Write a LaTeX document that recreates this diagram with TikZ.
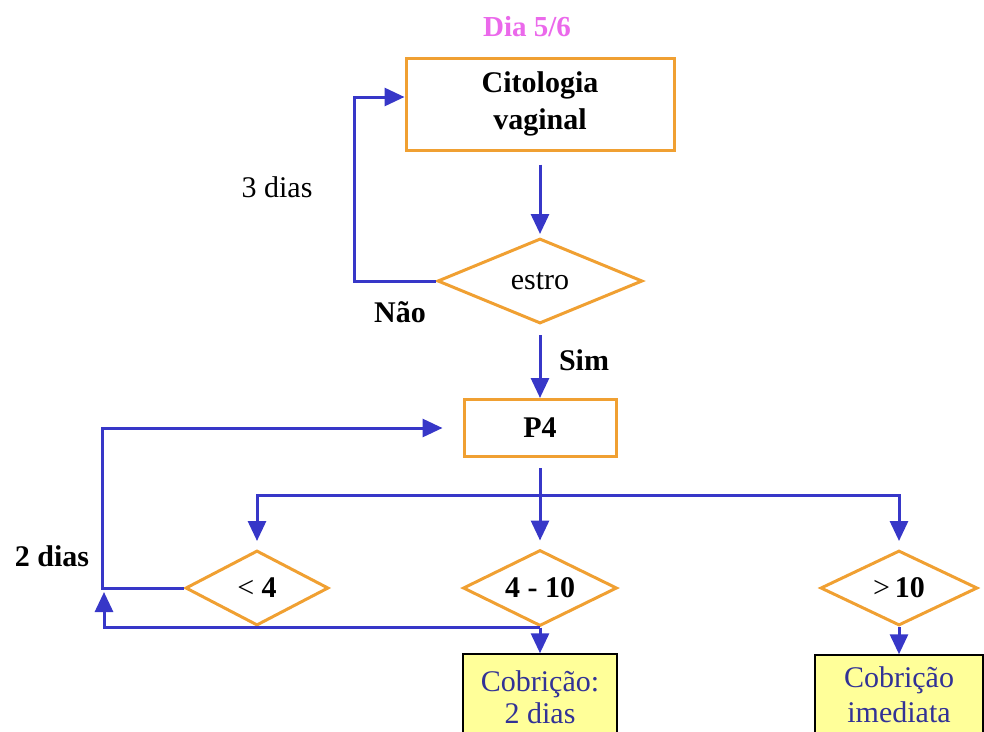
\documentclass[tikz,border=0pt]{standalone}
\usepackage{fontspec}
\setmainfont{Liberation Serif}
\usetikzlibrary{shapes.geometric,arrows.meta}
\definecolor{flowblue}{RGB}{55,55,200}
\definecolor{boxorange}{RGB}{240,160,50}
\definecolor{daypink}{RGB}{235,105,235}
\definecolor{notefill}{RGB}{255,255,153}
\definecolor{notetext}{RGB}{50,50,150}
\tikzset{
  procbox/.style={rectangle, draw=boxorange, line width=3pt, align=center, font=\bfseries},
  decision/.style={diamond, shape aspect=2, draw=boxorange, line width=3pt, inner sep=0pt},
  result/.style={rectangle, draw=black, line width=1.5pt, fill=notefill, text=notetext, align=center},
  flow/.style={draw=flowblue, line width=3pt, -{Triangle[length=20pt,width=18pt]}},
}
\begin{document}
\fontsize{30}{34}\selectfont
\begin{tikzpicture}[x=1pt, y=-1pt]
  \useasboundingbox (0,0) rectangle (984,731);
  \node (dia) [text=daypink, font=\bfseries\fontsize{29}{34}\selectfont] at (527,27) {Dia 5/6};
  \node (cito) [procbox, minimum width=268, minimum height=92, font=\bfseries\fontsize{30}{37}\selectfont] at (540,104) {Citologia\\vaginal};
  \node (p4) [procbox, minimum width=152, minimum height=57] at (540,428) {P4};
 \begin{scope}[every node/.style={decision}]
  \node (estro) [minimum width=205, minimum height=85] at (540,281) {estro};
  \node (lt) [minimum width=143, minimum height=75] at (257,588) {< \textbf{4}};
  \node (mid) [minimum width=154, minimum height=76, font=\bfseries] at (540,588) {4 - 10};
  \node (gt) [minimum width=157, minimum height=75] at (899,588) {>\,\textbf{10}};
 \end{scope}
  \node (cob1) [result, minimum width=154, minimum height=86, font=\fontsize{30}{32}\selectfont] at (540,697) {Cobrição:\\2 dias};
  \node (cob2) [result, minimum width=168, minimum height=80, font=\fontsize{30}{35}\selectfont] at (899,695) {Cobrição\\imediata};
  % labels
  \node (tres) at (277,187) {3 dias};
  \node (nao) [font=\bfseries] at (400,312) {Não};
  \node (sim) [font=\bfseries] at (584,360) {Sim};
  \node (dois) [font=\bfseries] at (52,556) {2 dias};
  % connectors
  \draw[flow, shorten <=13pt, shorten >=3pt] (cito.south) -- (estro.north);
  \draw[flow] (estro.west) -- ++(-82,0) |- ([yshift=7pt]cito.west);
  \draw[flow, shorten <=10pt] (estro.south) -- (p4.north);
  \path (p4.south) ++(0,37) coordinate (br);
  \draw[flow, shorten <=10pt, shorten >=8pt] (p4.south) -- (mid.north);
  \draw[flow, shorten >=8pt] (br) -| (lt.north);
  \draw[flow, shorten >=8pt] (br) -| (gt.north);
  \draw[flow, shorten >=20pt] (lt.west) -- ++(-82,0) |- (p4.west);
  \coordinate (back) at (104,592);
  \draw[flow] (mid.south) -| (back);
  \draw[flow] (mid.south) -- (cob1.north);
  \draw[flow] (gt.south) -- (cob2.north);
\end{tikzpicture}
\end{document}
